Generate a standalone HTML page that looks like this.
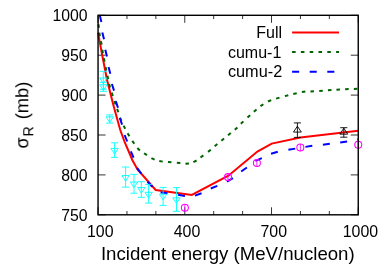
<!DOCTYPE html>
<html><head><meta charset="utf-8"><style>html,body{margin:0;padding:0;background:#fff;overflow:hidden}body{width:378px;height:264px;position:relative;font-family:"Liberation Sans",sans-serif}</style></head><body>
<svg width="378" height="264" viewBox="0 0 378 264" style="position:absolute;left:0;top:0">
<rect x="0" y="0" width="378" height="264" fill="#fff"/>
<path d="M98.05,214.80h7.5M358.25,214.80h-7.5M98.05,174.90h7.5M358.25,174.90h-7.5M98.05,135.00h7.5M358.25,135.00h-7.5M98.05,95.10h7.5M358.25,95.10h-7.5M98.05,55.20h7.5M358.25,55.20h-7.5M98.05,15.30h7.5M358.25,15.30h-7.5M98.05,214.8v-7.5M98.05,15.3v7.5M126.96,214.8v-3.75M126.96,15.3v3.75M155.87,214.8v-3.75M155.87,15.3v3.75M184.78,214.8v-7.5M184.78,15.3v7.5M213.69,214.8v-3.75M213.69,15.3v3.75M242.61,214.8v-3.75M242.61,15.3v3.75M271.52,214.8v-7.5M271.52,15.3v7.5M300.43,214.8v-3.75M300.43,15.3v3.75M329.34,214.8v-3.75M329.34,15.3v3.75M358.25,214.8v-7.5M358.25,15.3v7.5" stroke="#000" stroke-width="0.8" fill="none"/>
<path d="M98,32.6 L102.2,55 L107.05,80 L113.35,105 L120.25,130 L124.8,142.5 L128.1,150 L132.3,160 L137.5,169.5 L155.7,190.0 L191.8,195.0 L228.4,175.7 L257.4,151.5 L271.7,143.6 L300.4,137.4 L358.25,130.8" stroke="#ff0000" stroke-width="2" fill="none" stroke-linejoin="miter"/>
<path d="M98.51,24.25L98.89,27.75M99.33,32.66L99.87,36.14M101.00,41.27L101.60,44.73M102.30,49.77L102.90,53.23M103.86,58.27L104.54,61.73M105.65,67.08L106.35,70.52M107.44,75.78L108.16,79.22M109.14,84.10L110.06,87.50M111.77,92.62L112.83,95.98M114.45,101.13L115.55,104.47M117.12,108.94L118.28,112.26M120.04,117.57L121.36,120.83M123.61,125.63L125.19,128.77M127.61,133.18L129.39,136.22M132.30,140.85L134.30,143.75M137.34,148.07L139.86,150.53M144.04,153.22L146.96,155.18M151.40,158.17L154.60,159.63M159.27,160.97L162.73,161.63M167.95,161.94L171.45,162.26M176.85,162.74L180.35,163.06M185.45,163.87L188.95,163.53M193.42,162.08L196.58,160.52M200.48,157.44L203.32,155.36M208.02,151.89L210.78,149.71M214.65,146.33L217.35,144.07M221.34,140.82L224.06,138.58M228.04,135.32L230.76,133.08M234.80,129.79L237.40,127.41M240.83,123.82L243.37,121.38M247.50,117.59L250.10,115.21M253.86,111.74L256.54,109.46M260.44,106.19L263.36,104.21M267.99,101.52L271.21,100.08M276.11,98.61L279.49,97.59M284.90,96.15L288.30,95.25M293.28,93.99L296.72,93.21M301.85,92.02L305.35,91.58M310.44,91.50L313.96,91.30M319.24,90.93L322.76,90.67M327.94,90.22L331.46,89.98M336.44,89.69L339.96,89.51M345.14,89.28L348.66,89.12M353.84,88.88L357.36,88.72" stroke="#006400" stroke-width="2" fill="none"/>
<path d="M99.8,15.6L101.4,21.9M102.34,32.55L104.01,39.35M105.29,49.75L106.96,56.55M108.54,66.96L110.31,73.74M111.88,84.02L114.02,90.68M115.79,101.07L117.96,107.73M119.79,118.0L122.11,124.6M124.6,135.0L127.2,141.5M130.84,151.28L133.56,157.72M137.04,167.96L141.26,173.54M147.53,181.72L152.37,186.78M160.57,192.4L167.53,193.2M178.11,194.78L184.99,196.12M194.97,195.61L201.53,193.19M210.79,188.47L217.31,185.93M226.94,181.64L232.96,178.06M241.19,171.51L246.91,167.49M255.39,160.9L261.81,158.1M271.03,153.69L277.77,151.81M288.35,149.78L295.25,148.62M305.4,146.88L312.3,145.72M322.88,144.69L329.82,143.71M340.2,142.58L347.1,141.42M357.4,139.4L358.3,139.3" stroke="#0000ff" stroke-width="2" fill="none"/>
<path d="M125.6,167.0V187.1M122.05,167.0h7.1M122.05,187.1h7.1M125.6,181.10L121.90,175.54L129.30,175.54ZM134.0,174.4V193.2M130.45,174.4h7.1M130.45,193.2h7.1M134.0,187.60L130.30,182.04L137.70,182.04ZM141.3,181.7V197.3M137.75,181.7h7.1M137.75,197.3h7.1M141.3,193.10L137.60,187.54L145.00,187.54ZM148.6,184.4V203.1M145.04999999999998,184.4h7.1M145.04999999999998,203.1h7.1M148.6,197.90L144.90,192.34L152.30,192.34ZM163.1,187.4V205.4M159.54999999999998,187.4h7.1M159.54999999999998,205.4h7.1M163.1,199.80L159.40,194.24L166.80,194.24ZM176.5,187.6V211.3M172.95,187.6h7.1M172.95,211.3h7.1M176.5,203.40L172.80,197.84L180.20,197.84ZM114.6,142.8V157.4M111.05,142.8h7.1M111.05,157.4h7.1M114.6,154.00L110.90,148.44L118.30,148.44ZM109.7,114.9V123.1M106.15,114.9h7.1M106.15,123.1h7.1M109.7,122.40L106.00,116.84L113.40,116.84ZM103.3,71.3V89.2M99.75,71.3h7.1M99.75,89.2h7.1M103.3,83.60L99.60,78.04L107.00,78.04ZM103.4,82.3V91.3M99.85000000000001,82.3h7.1M99.85000000000001,91.3h7.1M103.4,90.30L99.70,84.74L107.10,84.74Z" stroke="#00ffff" stroke-width="0.9" fill="none"/>
<circle cx="184.85" cy="207.7" r="3.5" stroke="#ff00ff" stroke-width="1.05" fill="none"/>
<circle cx="228.0" cy="177.1" r="3.5" stroke="#ff00ff" stroke-width="1.05" fill="none"/>
<circle cx="256.9" cy="163.0" r="3.5" stroke="#ff00ff" stroke-width="1.05" fill="none"/>
<circle cx="300.35" cy="147.5" r="3.5" stroke="#ff00ff" stroke-width="1.05" fill="none"/>
<circle cx="358.25" cy="144.7" r="3.5" stroke="#ff00ff" stroke-width="1.05" fill="none"/>
<path d="M184.85,204.2v7M228.0,173.6v7M256.9,159.5v7M300.35,144.0v7M358.25,141.2v7" stroke="#ff00ff" stroke-width="0.9" fill="none"/>
<path d="M297.4,122.9V137.4M293.84999999999997,122.9h7.1M293.84999999999997,137.4h7.1M297.4,126.18L293.48,132.08L301.32,132.08ZM343.8,127.7V137.2M340.25,127.7h7.1M340.25,137.2h7.1M343.8,128.28L339.88,134.18L347.72,134.18Z" stroke="#000" stroke-width="0.9" fill="none"/>
<path d="M292.1,32.4H339" stroke="#ff0000" stroke-width="2"/>
<path d="M292.1,51.9H339" stroke="#006400" stroke-width="2" stroke-dasharray="3.52 5.28"/>
<path d="M292.1,71.7H339" stroke="#0000ff" stroke-width="2" stroke-dasharray="7.04 10.56"/>
<rect x="98.05" y="15.3" width="260.2" height="199.5" fill="none" stroke="#000" stroke-width="1.4"/>
<g font-family="Liberation Sans, sans-serif" font-size="16" fill="#000" style="will-change:transform">
<text x="87.6" y="220.50" text-anchor="end" font-size="15.8">750</text>
<text x="87.6" y="180.60" text-anchor="end" font-size="15.8">800</text>
<text x="87.6" y="140.70" text-anchor="end" font-size="15.8">850</text>
<text x="87.6" y="100.80" text-anchor="end" font-size="15.8">900</text>
<text x="87.6" y="60.90" text-anchor="end" font-size="15.8">950</text>
<text x="87.6" y="21.00" text-anchor="end" font-size="15.8">1000</text>
<text x="100.25" y="236.5" text-anchor="middle" font-size="15.9">100</text>
<text x="186.98" y="236.5" text-anchor="middle" font-size="15.9">400</text>
<text x="273.72" y="236.5" text-anchor="middle" font-size="15.9">700</text>
<text x="360.45" y="236.5" text-anchor="middle" font-size="15.9">1000</text>
<text x="282" y="38" text-anchor="end">Full</text>
<text x="281.3" y="57.5" text-anchor="end">cumu-1</text>
<text x="282.2" y="77.3" text-anchor="end" font-size="16.3">cumu-2</text>
<text x="100.9" y="260.1" font-size="18.5" textLength="253.8" lengthAdjust="spacingAndGlyphs">Incident energy (MeV/nucleon)</text>
<g transform="translate(28.3,0) rotate(-90)"><text transform="translate(-148.5,0) scale(1.0,1.07)" font-size="18">σ</text><text x="-136.6" y="4.5" font-size="14.2">R</text><text x="-100.5" y="0" font-size="18.3" text-anchor="middle">(mb)</text></g>
</g>
</svg>
</body></html>
